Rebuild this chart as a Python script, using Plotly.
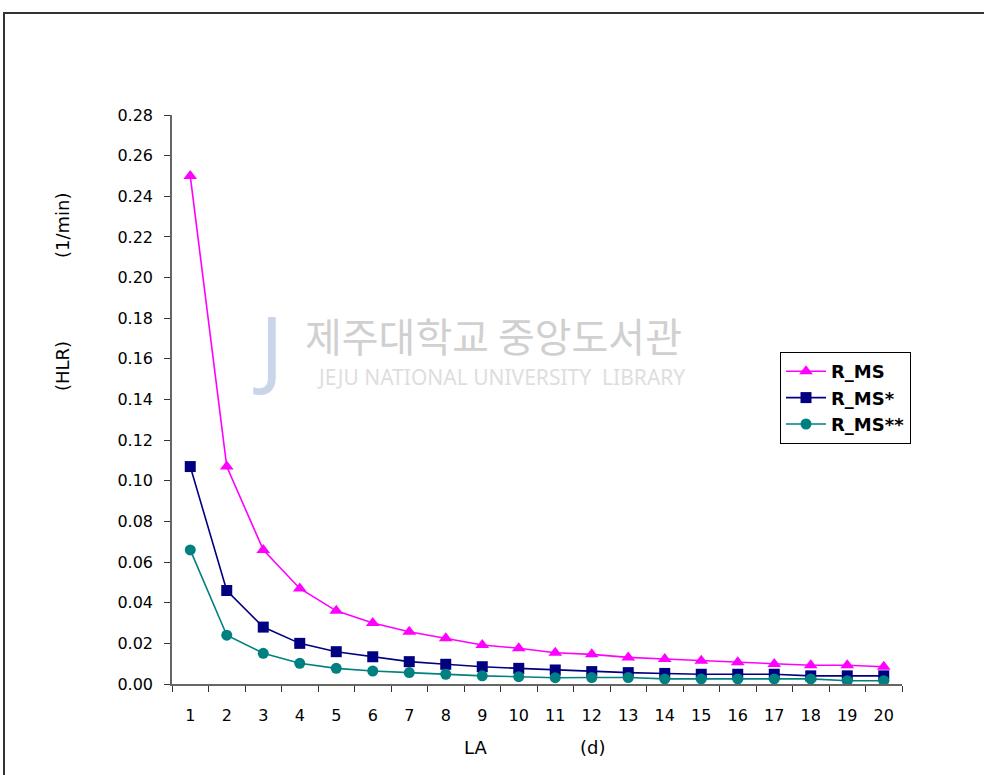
import plotly.graph_objects as go

# Days of LA (category axis)
days = [str(d) for d in range(1, 21)]

# HLR (1/min) for each configuration
r_ms = [0.250, 0.107, 0.066, 0.047, 0.036, 0.030, 0.0257, 0.0225, 0.0192, 0.0176,
        0.0154, 0.0146, 0.0131, 0.0123, 0.0115, 0.0107, 0.0098, 0.0092, 0.0092, 0.0085]
r_ms_s = [0.107, 0.046, 0.028, 0.020, 0.0159, 0.0134, 0.011, 0.0097, 0.0085, 0.0077,
          0.0069, 0.0061, 0.0056, 0.0052, 0.0048, 0.0048, 0.0048, 0.0040, 0.0040, 0.0040]
r_ms_ss = [0.066, 0.024, 0.0151, 0.0102, 0.0077, 0.0064, 0.0056, 0.0048, 0.0040, 0.0036,
           0.0031, 0.0032, 0.0032, 0.0025, 0.0025, 0.0025, 0.0025, 0.0025, 0.0016, 0.0016]

y_ticks = [round(0.02 * i, 2) for i in range(15)]
y_tick_text = [f"{v:.2f}" for v in y_ticks]

W, H = 984, 775
L, R, T, B = 172, 82, 115, 91
pw, ph = W - L - R, H - T - B


def px_x(x):
    return (x - L) / pw


def px_y(y):
    return (H - B - y) / ph


fig = go.Figure()
fig.add_trace(go.Scatter(
    x=days, y=r_ms, name="R_MS", mode="lines+markers",
    line=dict(color="#FF00FF", width=1.6),
    marker=dict(symbol="triangle-up", size=12, color="#FF00FF"),
))
fig.add_trace(go.Scatter(
    x=days, y=r_ms_s, name="R_MS*", mode="lines+markers",
    line=dict(color="#000080", width=1.6),
    marker=dict(symbol="square", size=11, color="#000080"),
))
fig.add_trace(go.Scatter(
    x=days, y=r_ms_ss, name="R_MS**", mode="lines+markers",
    line=dict(color="#008080", width=1.6),
    marker=dict(symbol="circle", size=11, color="#008080"),
))

font_main = "DejaVu Sans, Arial, sans-serif"


def note(x, y, text, size, color="black", family=font_main, angle=0):
    fig.add_annotation(xref="paper", yref="paper", x=px_x(x), y=px_y(y),
                       xanchor="center", yanchor="middle",
                       text=text, showarrow=False, textangle=angle,
                       font=dict(family=family, size=size, color=color))


# faint library watermark
note(493, 335, "제주대학교 중앙도서관", 40, "#d0d0d0", "Noto Sans CJK KR")
note(501, 377, "JEJU NATIONAL UNIVERSITY  LIBRARY", 21, "#dedede", "Noto Sans")
note(268, 345, "J", 86, "#c9d6ea", "Noto Sans")

# axis titles
note(475, 747, "LA", 18)
note(592, 747, "(d)", 18)
note(62, 366, "(HLR)", 18, angle=-90)
note(62, 225, "(1/min)", 18, angle=-90)

# outer frame
fig.add_shape(type="rect", xref="paper", yref="paper",
              x0=px_x(4), x1=px_x(1000), y0=px_y(800), y1=px_y(13),
              line=dict(color="#333333", width=2))

fig.update_layout(
    width=W, height=H,
    margin=dict(l=L, r=R, t=T, b=B),
    paper_bgcolor="white", plot_bgcolor="white",
    font=dict(family=font_main, size=16, color="black"),
    legend=dict(
        x=px_x(780), y=px_y(352), xanchor="left", yanchor="top",
        bordercolor="black", borderwidth=1, bgcolor="white",
        font=dict(family=font_main, size=18, color="black", weight="bold"),
        tracegroupgap=0, itemwidth=40,
    ),
    xaxis=dict(
        type="category", range=[-0.5, 19.5],
        showline=True, linecolor="#666666", linewidth=1.5,
        ticks="outside", tickson="boundaries", ticklen=6, tickcolor="#333333",
        showgrid=False, zeroline=False,
        tickfont=dict(family=font_main, size=16),
        ticklabelstandoff=16,
    ),
    yaxis=dict(
        range=[0, 0.28], tickvals=y_ticks, ticktext=y_tick_text,
        showline=True, linecolor="#666666", linewidth=1.5,
        ticks="outside", ticklen=6, tickcolor="#333333",
        showgrid=False, zeroline=False,
        tickfont=dict(family=font_main, size=16),
        ticklabelstandoff=8,
    ),
)

fig.write_html("out.html")
